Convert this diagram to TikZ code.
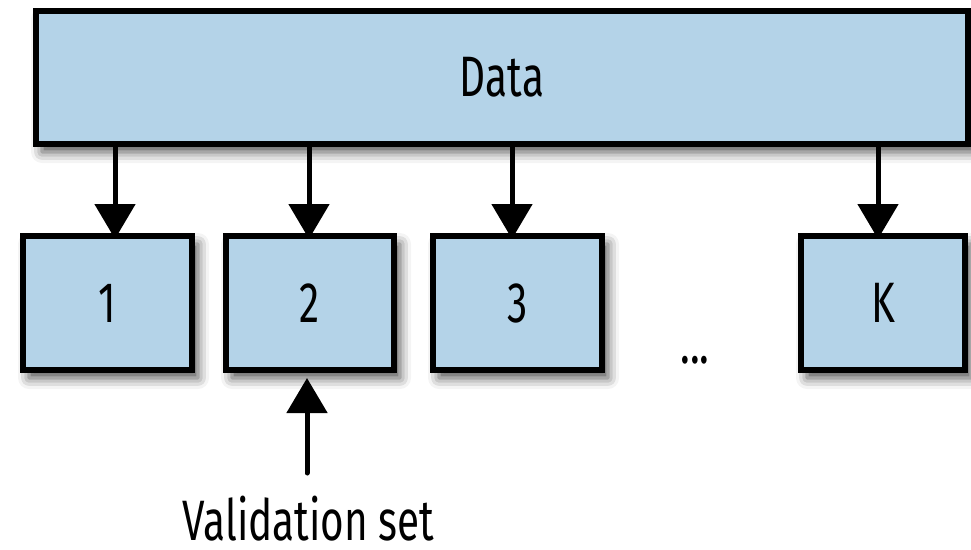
\documentclass[tikz,border=0pt]{standalone}
\usepackage{fontspec}
\setmainfont[FakeStretch=0.71]{Fira Sans}
\usetikzlibrary{arrows.meta,shadows.blur}
\definecolor{boxblue}{HTML}{B4D3E8}
\begin{document}
\begin{tikzpicture}[x=1pt,y=-1pt,
  box/.style={draw=black, line width=6pt, fill=boxblue, inner sep=0pt,
    blur shadow={shadow xshift=6pt, shadow yshift=-8pt, shadow blur radius=11pt, shadow opacity=70}},
  lbl/.style={font=\fontsize{57}{60}\selectfont},
  arr/.style={line width=5pt, -{Triangle[width=40pt,length=35pt]}}]
\useasboundingbox (0,0) rectangle (971,549);
\node[box, lbl, minimum width=932pt, minimum height=133pt] (data) at (502,77.5) {Data};
\node[box, lbl, minimum width=169pt, minimum height=134pt] (b1) at (107.5,303) {1};
\node[box, lbl, minimum width=168pt, minimum height=134pt] (b2) at (310,303) {2};
\node[box, lbl, minimum width=169pt, minimum height=134pt] (b3) at (517.5,303) {3};
\node[box, lbl, minimum width=164pt, minimum height=134pt] (bK) at (883,303) {K};
\node[lbl, anchor=base] (dots) at (695,363) {...};
\node[lbl, anchor=base, text depth=0pt, inner sep=1pt] (vlabel) at (308.5,540) {Validation set};
\coordinate (vs) at (307,473);
\draw[arr] ([xshift=7.5pt]b1.north |- data.south) -- ([xshift=7.5pt,yshift=-6pt]b1.north);
\draw[arr] ([xshift=-1pt]b2.north |- data.south) -- ([xshift=-1pt,yshift=-6pt]b2.north);
\draw[arr] ([xshift=-5.5pt]b3.north |- data.south) -- ([xshift=-5.5pt,yshift=-6pt]b3.north);
\draw[arr] ([xshift=-5pt]bK.north |- data.south) -- ([xshift=-5pt,yshift=-6pt]bK.north);
\draw[arr, line cap=round] (vs) -- ([xshift=-3pt,yshift=-5pt]b2.south);
\end{tikzpicture}
\end{document}
